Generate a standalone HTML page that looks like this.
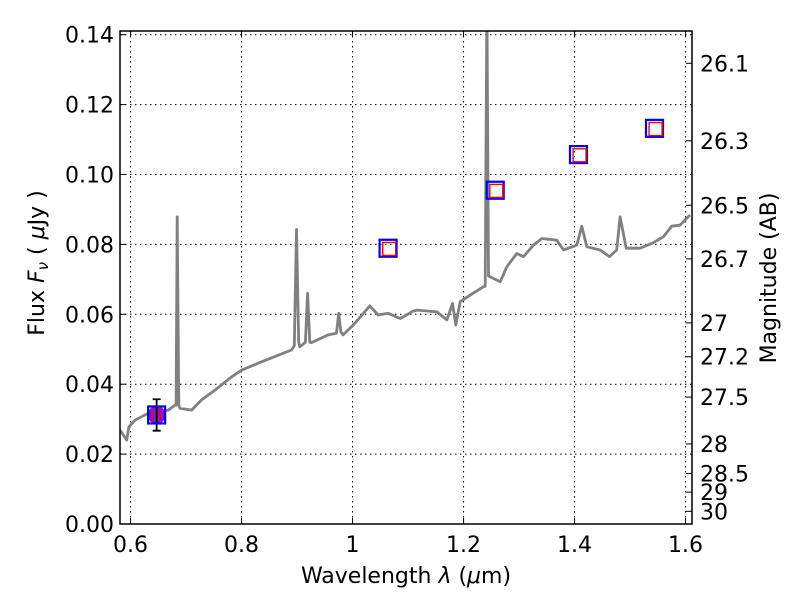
<!DOCTYPE html>
<html><head><meta charset="utf-8"><style>
body{margin:0;background:#fff;}
svg text{font-family:"DejaVu Sans","Liberation Sans",sans-serif;fill:#000;}
</style></head><body>
<svg id="chart" width="800" height="600" xmlns="http://www.w3.org/2000/svg">
<rect x="0" y="0" width="800" height="600" fill="#fff"/>
<g id="grid"></g>
<g id="plot"></g>
<g id="axes"></g>
<text x="406" y="583" font-size="22" text-anchor="middle">Wavelength  <tspan font-style="italic">λ</tspan> (<tspan font-style="italic">μ</tspan>m)</text>
<text transform="translate(44,263) rotate(-90)" font-size="22" text-anchor="middle">Flux  <tspan font-style="italic">F<tspan font-size="15" dy="4">ν</tspan></tspan><tspan dy="-4">  (  </tspan><tspan font-style="italic">μ</tspan>Jy )</text>
<text transform="translate(776,278) rotate(-90)" font-size="22" text-anchor="middle">Magnitude (AB)</text>
</svg>
<script>
const specWave=[0.581,0.593,0.597,0.608,0.620,0.632,0.668,0.680,0.682,0.684,0.687,0.689,0.710,0.728,0.752,0.782,0.800,0.830,0.860,0.890,0.895,0.899,0.903,0.905,0.915,0.919,0.923,0.926,0.956,0.971,0.975,0.979,0.983,1.004,1.031,1.046,1.064,1.086,1.109,1.116,1.152,1.170,1.180,1.186,1.194,1.212,1.236,1.239,1.242,1.245,1.248,1.266,1.278,1.296,1.308,1.326,1.341,1.368,1.380,1.404,1.413,1.422,1.446,1.463,1.476,1.482,1.493,1.518,1.542,1.560,1.575,1.590,1.608];
const specFlux=[0.0269,0.024,0.0278,0.0297,0.0307,0.0317,0.0326,0.034,0.034,0.0879,0.034,0.0331,0.0326,0.0355,0.0383,0.0421,0.044,0.046,0.0479,0.0498,0.051,0.0843,0.052,0.0507,0.052,0.066,0.052,0.0519,0.0541,0.0546,0.0603,0.055,0.0541,0.0574,0.0624,0.0598,0.0603,0.0588,0.0609,0.0612,0.0607,0.0584,0.0631,0.0569,0.0636,0.0655,0.0679,0.068,0.150,0.071,0.0707,0.0693,0.0736,0.0774,0.0765,0.0798,0.0817,0.0812,0.0784,0.0798,0.0852,0.0793,0.0784,0.0765,0.0784,0.0879,0.0789,0.0789,0.0805,0.0822,0.0852,0.0855,0.0884];
const obsWave=[0.647];
const obsFlux=[0.0312];
const obsErr=[0.0045];
const blueWave=[0.647,1.064,1.257,1.407,1.544];
const blueFlux=[0.0312,0.0789,0.0955,0.1057,0.1132];
const redWave=[1.066,1.259,1.409,1.546];
const redFlux=[0.0787,0.0953,0.1055,0.1130];
const xTicks=[0.6,0.8,1.0,1.2,1.4,1.6];
const xTickLabels=["0.6","0.8","1","1.2","1.4","1.6"];
const yTicks=[0,0.02,0.04,0.06,0.08,0.10,0.12,0.14];
const yTickLabels=["0.00","0.02","0.04","0.06","0.08","0.10","0.12","0.14"];
const magTicks=[26.1,26.3,26.5,26.7,27,27.2,27.5,28,28.5,29,30];
const magTickLabels=["26.1","26.3","26.5","26.7","27","27.2","27.5","28","28.5","29","30"];

const L=120,R=692,T=31,B=524,XMIN=0.581,XMAX=1.6116,YMIN=0,YMAX=0.14106;
const sx=v=>L+(v-XMIN)/(XMAX-XMIN)*(R-L);
const sy=v=>B-(v-YMIN)/(YMAX-YMIN)*(B-T);
const NS="http://www.w3.org/2000/svg";
function mk(tag,attrs,parent){const e=document.createElementNS(NS,tag);for(const k in attrs)e.setAttribute(k,attrs[k]);parent.appendChild(e);return e;}
const grid=document.getElementById('grid'),plot=document.getElementById('plot'),axes=document.getElementById('axes');

xTicks.forEach((t,i)=>{
  const x=sx(t);
  const g=mk('line',{x1:x,x2:x,y1:T,y2:B,stroke:'#000','stroke-width':1,'stroke-dasharray':'1.5,3.5'},grid);
  
  
  mk('line',{x1:x,x2:x,y1:B,y2:B-6,stroke:'#000','stroke-width':1},axes);
  mk('line',{x1:x,x2:x,y1:T,y2:T+6,stroke:'#000','stroke-width':1},axes);
  const tx=mk('text',{x:x,y:B+28,'font-size':22,'text-anchor':'middle'},axes);
  tx.textContent=xTickLabels[i];
  
  
});
yTicks.forEach((t,i)=>{
  const y=sy(t);
  const g=mk('line',{x1:L,x2:R,y1:y,y2:y,stroke:'#000','stroke-width':1,'stroke-dasharray':'1.5,3.5'},grid);
  
  
  mk('line',{x1:L,x2:L+6,y1:y,y2:y,stroke:'#000','stroke-width':1},axes);
  const tx=mk('text',{x:L-6,y:y+8,'font-size':22,'text-anchor':'end'},axes);
  tx.textContent=yTickLabels[i];
  
  
});
magTicks.forEach((m,i)=>{
  const y=sy(Math.pow(10,(23.9-m)/2.5));
  mk('line',{x1:R,x2:R-6,y1:y,y2:y,stroke:'#000','stroke-width':1},axes);
  const tx=mk('text',{x:R+8,y:y+8,'font-size':22,'text-anchor':'start'},axes);
  tx.textContent=magTickLabels[i];
  
  
});

const clip=mk('clipPath',{id:'clp'},mk('defs',{},plot));
mk('rect',{x:L,y:T,width:R-L,height:B-T},clip);
const pg=mk('g',{'clip-path':'url(#clp)'},plot);
const pts=specWave.map((w,i)=>sx(w).toFixed(1)+','+sy(specFlux[i]).toFixed(1)).join(' ');
const line=mk('polyline',{points:pts,fill:'none',stroke:'#808080','stroke-width':2.8,'stroke-linejoin':'round'},pg);



obsWave.forEach((w,i)=>{
  const x=sx(w),y=sy(obsFlux[i]);
  const c=mk('circle',{cx:x,cy:y,r:9,fill:'#a010a8'},pg);
  
  
  const y1=sy(obsFlux[i]+obsErr[i]),y2=sy(obsFlux[i]-obsErr[i]);
  const e=mk('path',{d:`M${x},${y1}V${y2}M${x-4},${y1}H${x+4}M${x-4},${y2}H${x+4}`,stroke:'#000','stroke-width':1.8,fill:'none'},pg);
  
  
});
blueWave.forEach((w,i)=>{
  const x=sx(w),y=sy(blueFlux[i]);
  const s=mk('rect',{x:x-8.5,y:y-8.5,width:17,height:17,fill:'none',stroke:'#0000ff','stroke-width':2.2},pg);
  
  
});
redWave.forEach((w,i)=>{
  const x=sx(w),y=sy(redFlux[i]);
  const s=mk('rect',{x:x-6.5,y:y-6.5,width:13,height:13,fill:'none',stroke:'#ff0000','stroke-width':1.4},pg);
  
  
});
const fr=mk('rect',{x:L,y:T,width:R-L,height:B-T,fill:'none',stroke:'#000','stroke-width':1.5},axes);


</script>
</body></html>
